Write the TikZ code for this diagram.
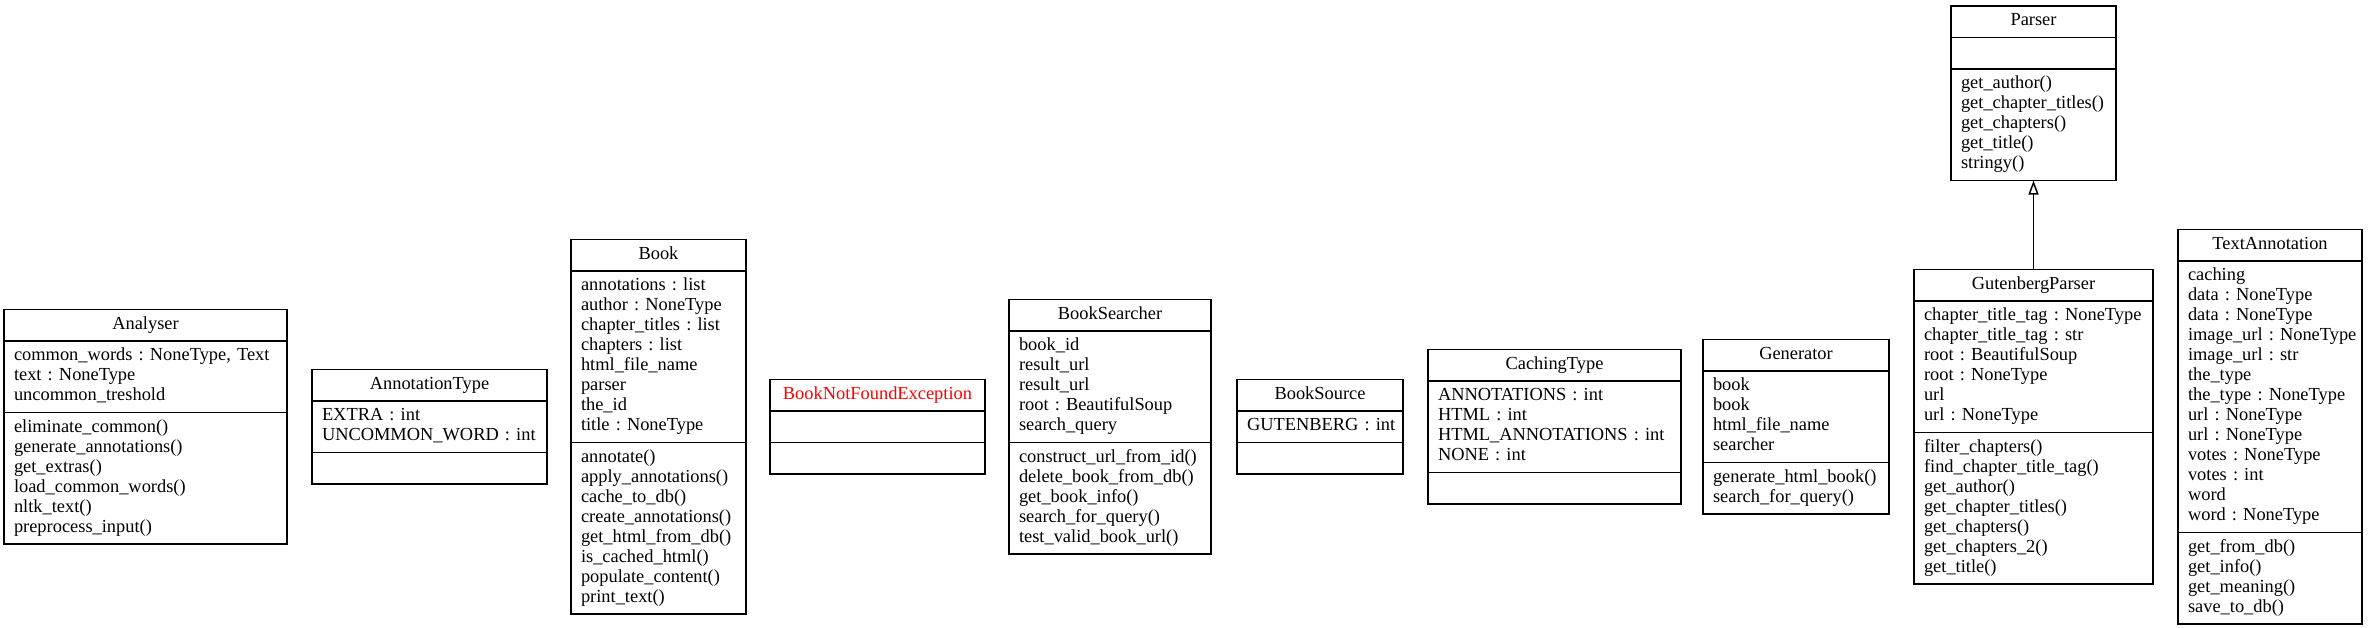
\documentclass[tikz,border=0pt]{standalone}
\usepackage{fontspec}
\setmainfont{Liberation Serif}
\usetikzlibrary{shapes.multipart,arrows.meta}

\newcommand\cname[1]{{\centering\strut#1\par}}
\newcommand\mline[1]{\mbox{\strut#1}\par}
\frenchspacing

\begin{document}
\begin{tikzpicture}[x=0.5pt,y=-0.5pt,
    cls/.style={
        rectangle split,
        rectangle split parts=3,
        draw,
        line width=0.75pt,
        anchor=north west,
        outer sep=0pt,
        inner xsep=5pt,
        inner ysep=2.5pt,
        text width=#1,
        align=left,
        font=\fontsize{9.2}{10}\selectfont
    },
    inherit/.style={-{Triangle[open,length=7pt,width=5pt]}, line width=0.75pt}]

    \useasboundingbox (0,0) rectangle (2369,627);

    % Analyser
    \node[cls=131.5pt] (analyser) at (4,309.5) {\cname{Analyser}
        \nodepart{two}
        \mline{common\_words : NoneType, Text}
        \mline{text : NoneType}
        \mline{uncommon\_treshold}
        \nodepart{three}
        \mline{eliminate\_common()}
        \mline{generate\_annotations()}
        \mline{get\_extras()}
        \mline{load\_common\_words()}
        \mline{nltk\_text()}
        \mline{preprocess\_input()}};

    % AnnotationType
    \node[cls=107.5pt] (annotationtype) at (312,369.5) {\cname{AnnotationType}
        \nodepart{two}
        \mline{EXTRA : int}
        \mline{UNCOMMON\_WORD : int}
        \nodepart{three}\strut};

    % Book
    \node[cls=77.5pt] (book) at (571,239.5) {\cname{Book}
        \nodepart{two}
        \mline{annotations : list}
        \mline{author : NoneType}
        \mline{chapter\_titles : list}
        \mline{chapters : list}
        \mline{html\_file\_name}
        \mline{parser}
        \mline{the\_id}
        \mline{title : NoneType}
        \nodepart{three}
        \mline{annotate()}
        \mline{apply\_annotations()}
        \mline{cache\_to\_db()}
        \mline{create\_annotations()}
        \mline{get\_html\_from\_db()}
        \mline{is\_cached\_html()}
        \mline{populate\_content()}
        \mline{print\_text()}};

    % BookNotFoundException
    \node[cls=97.5pt] (notfound) at (770,379.5)
        {\cname{\textcolor{red}{BookNotFoundException}}
        \nodepart{two}\strut
        \nodepart{three}\strut};

    % BookSearcher
    \node[cls=91pt] (booksearcher) at (1009,299.5) {\cname{BookSearcher}
        \nodepart{two}
        \mline{book\_id}
        \mline{result\_url}
        \mline{result\_url}
        \mline{root : BeautifulSoup}
        \mline{search\_query}
        \nodepart{three}
        \mline{construct\_url\_from\_id()}
        \mline{delete\_book\_from\_db()}
        \mline{get\_book\_info()}
        \mline{search\_for\_query()}
        \mline{test\_valid\_book\_url()}};

    % BookSource
    \node[cls=73pt] (booksource) at (1237,379.5) {\cname{BookSource}
        \nodepart{two}
        \mline{GUTENBERG : int}
        \nodepart{three}\strut};

    % CachingType
    \node[cls=116.5pt] (cachingtype) at (1428,349.5) {\cname{CachingType}
        \nodepart{two}
        \mline{ANNOTATIONS : int}
        \mline{HTML : int}
        \mline{HTML\_ANNOTATIONS : int}
        \mline{NONE : int}
        \nodepart{three}\strut};

    % Generator
    \node[cls=83pt] (generator) at (1703,339.5) {\cname{Generator}
        \nodepart{two}
        \mline{book}
        \mline{book}
        \mline{html\_file\_name}
        \mline{searcher}
        \nodepart{three}
        \mline{generate\_html\_book()}
        \mline{search\_for\_query()}};

    % Parser
    \node[cls=72.5pt] (parser) at (1951,6) {\cname{Parser}
        \nodepart{two}\strut
        \nodepart{three}
        \mline{get\_author()}
        \mline{get\_chapter\_titles()}
        \mline{get\_chapters()}
        \mline{get\_title()}
        \mline{stringy()}};

    % GutenbergParser
    \node[cls=109.5pt] (gutenberg) at (1914,269.5) {\cname{GutenbergParser}
        \nodepart{two}
        \mline{chapter\_title\_tag : NoneType}
        \mline{chapter\_title\_tag : str}
        \mline{root : BeautifulSoup}
        \mline{root : NoneType}
        \mline{url}
        \mline{url : NoneType}
        \nodepart{three}
        \mline{filter\_chapters()}
        \mline{find\_chapter\_title\_tag()}
        \mline{get\_author()}
        \mline{get\_chapter\_titles()}
        \mline{get\_chapters()}
        \mline{get\_chapters\_2()}
        \mline{get\_title()}};

    % TextAnnotation
    \node[cls=82pt] (textannotation) at (2178,229.5) {\cname{TextAnnotation}
        \nodepart{two}
        \mline{caching}
        \mline{data : NoneType}
        \mline{data : NoneType}
        \mline{image\_url : NoneType}
        \mline{image\_url : str}
        \mline{the\_type}
        \mline{the\_type : NoneType}
        \mline{url : NoneType}
        \mline{url : NoneType}
        \mline{votes : NoneType}
        \mline{votes : int}
        \mline{word}
        \mline{word : NoneType}
        \nodepart{three}
        \mline{get\_from\_db()}
        \mline{get\_info()}
        \mline{get\_meaning()}
        \mline{save\_to\_db()}};

    % Vererbung
    \draw[inherit] (gutenberg.north) -- (parser.south);

\end{tikzpicture}
\end{document}
